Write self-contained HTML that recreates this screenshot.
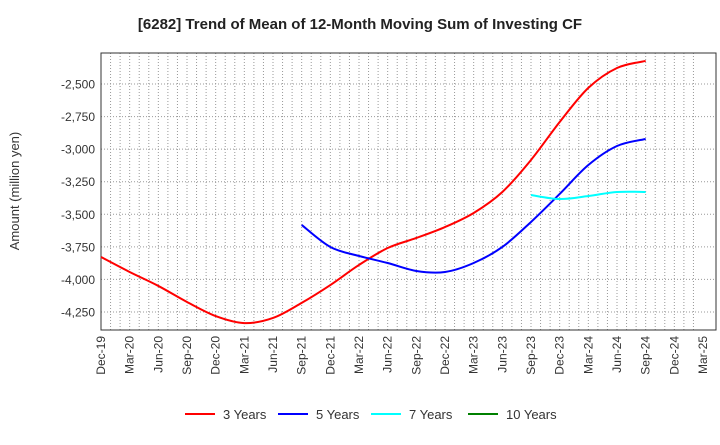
<!DOCTYPE html>
<html><head><meta charset="utf-8"><style>
body{margin:0;background:#fff;font-family:"Liberation Sans",sans-serif}
</style></head><body>
<svg id="c" width="720" height="440" xmlns="http://www.w3.org/2000/svg">
<text x="360" y="29" text-anchor="middle" font-size="15" font-weight="bold" fill="#222">[6282]  Trend of Mean of 12-Month Moving Sum of Investing CF</text>
<text transform="translate(19,191) rotate(-90)" text-anchor="middle" font-size="13" fill="#333">Amount (million yen)</text>
<g id="grid"></g><g id="axes"></g><g id="series"></g><g id="legend"></g>
</svg>
<script>
const xLabels=["Dec-19","Mar-20","Jun-20","Sep-20","Dec-20","Mar-21","Jun-21","Sep-21","Dec-21","Mar-22","Jun-22","Sep-22","Dec-22","Mar-23","Jun-23","Sep-23","Dec-23","Mar-24","Jun-24","Sep-24","Dec-24","Mar-25"];
const yTicks=[-2500,-2750,-3000,-3250,-3500,-3750,-4000,-4250];
const seriesNames=["3 Years","5 Years","7 Years","10 Years"];
const seriesColors=["#ff0000","#0000ff","#00ffff","#008000"];
const s3=[-3828,-3943,-4050,-4173,-4281,-4335,-4296,-4180,-4043,-3889,-3759,-3682,-3598,-3490,-3329,-3083,-2792,-2530,-2377,-2323];
const s5=[null,null,null,null,null,null,null,-3582,-3751,-3820,-3874,-3935,-3943,-3874,-3751,-3559,-3344,-3122,-2976,-2922];
const s7=[null,null,null,null,null,null,null,null,null,null,null,null,null,null,null,-3352,-3383,-3360,-3329,-3329];
const s10=[];
const L=101,R=703,PR=716,T=53,B=330;
const X=i=>L+i*(R-L)/21;
const Y=v=>84+(-2500-v)/250*32.57;
const NS="http://www.w3.org/2000/svg";
function mk(t,a,p){const e=document.createElementNS(NS,t);for(const k in a)e.setAttribute(k,a[k]);p.appendChild(e);return e;}
const g=document.getElementById('grid'),ax=document.getElementById('axes'),sg=document.getElementById('series'),lg=document.getElementById('legend');
for(let m=1;m<63;m++){const x=L+m*(R-L)/63;if(x>=PR)break;const l=mk('line',{x1:x,x2:x,y1:T,y2:B,stroke:'#999','stroke-dasharray':'1,2','stroke-width':1},g);

}
yTicks.forEach(v=>{const y=Y(v);const l=mk('line',{x1:L,x2:PR,y1:y,y2:y,stroke:'#999','stroke-dasharray':'1,2'},g);


const t=mk('text',{x:L-6,y:y+4.5,'text-anchor':'end','font-size':12,fill:'#333'},ax);t.textContent=v.toLocaleString('en-US');

});
const fr=mk('rect',{x:L,y:T,width:PR-L,height:B-T,fill:'none',stroke:'#333','stroke-width':1},ax);


xLabels.forEach((s,i)=>{const x=X(i);const t=mk('text',{transform:`translate(${x+4},${B+6}) rotate(-90)`,'text-anchor':'end','font-size':12,fill:'#333'},ax);t.textContent=s;

});
function path(arr){const p=[];arr.forEach((v,i)=>{if(v!=null)p.push([X(i),Y(v)]);});if(p.length<2)return '';
let d=`M${p[0][0]},${p[0][1]}`;for(let i=0;i<p.length-1;i++){const p0=p[i-1]||p[i],p1=p[i],p2=p[i+1],p3=p[i+2]||p2;
d+=` C${p1[0]+(p2[0]-p0[0])/6},${p1[1]+(p2[1]-p0[1])/6} ${p2[0]-(p3[0]-p1[0])/6},${p2[1]-(p3[1]-p1[1])/6} ${p2[0]},${p2[1]}`;}return d;}
[s3,s5,s7,s10].forEach((arr,k)=>{const d=path(arr);if(!d)return;const e=mk('path',{d:d,fill:'none',stroke:seriesColors[k],'stroke-width':2},sg);

});
const lx=[185,278,371,468];
seriesNames.forEach((n,k)=>{const l=mk('line',{x1:lx[k],x2:lx[k]+30,y1:414,y2:414,stroke:seriesColors[k],'stroke-width':2},lg);


const t=mk('text',{x:lx[k]+38,y:419,'font-size':13,fill:'#333'},lg);t.textContent=n;

});
</script>
</body></html>
